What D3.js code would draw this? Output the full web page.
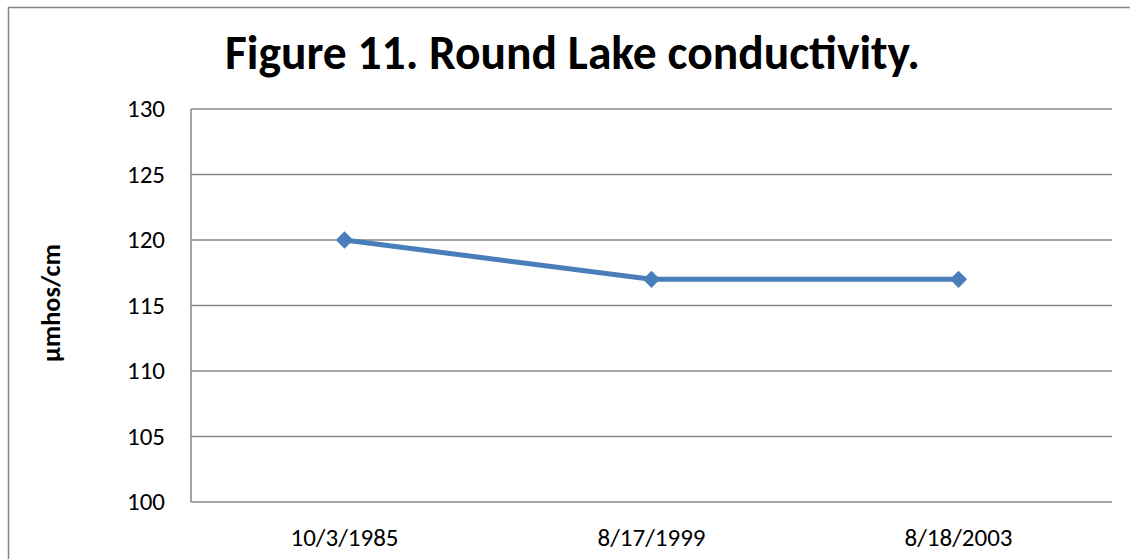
<!DOCTYPE html>
<html>
<head>
<meta charset="utf-8">
<script src="https://cdn.jsdelivr.net/npm/d3@7"></script>
<style>
  html, body { margin: 0; padding: 0; background: #fff; }
  svg { display: block; font-family: Carlito, Calibri, Lato, sans-serif; }
</style>
</head>
<body>
<div id="root"></div>
<script>
const categories = ['10/3/1985', '8/17/1999', '8/18/2003'];
const conductivity = [120, 117, 117];
const yTicks = [100, 105, 110, 115, 120, 125, 130];
const titleText = 'Figure 11. Round Lake conductivity.';
const yTitle = 'µmhos/cm';

const width = 1130;
const height = 559;
const plot = { left: 191, right: 1112, top: 109, bottom: 502 };
const gridColor = '#868686';
const lineColor = '#4a7ebb';

const svg = d3.select('#root')
  .append('svg')
  .attr('width', width)
  .attr('height', height);

// chart frame
svg.append('rect')
  .attr('x', 8.5)
  .attr('y', 7.5)
  .attr('width', width + 20)
  .attr('height', height + 20)
  .attr('fill', 'none')
  .attr('stroke', gridColor)
  .attr('stroke-width', 1.5);

const x = d3.scaleBand()
  .domain(categories)
  .range([plot.left, plot.right]);

const y = d3.scaleLinear()
  .domain([100, 130])
  .range([plot.bottom, plot.top]);

// gridlines
svg.append('g')
  .selectAll('line')
  .data(yTicks)
  .join('line')
  .attr('x1', plot.left)
  .attr('x2', plot.right)
  .attr('y1', (d) => y(d))
  .attr('y2', (d) => y(d))
  .attr('stroke', gridColor)
  .attr('stroke-width', 1.5);

// y axis line
svg.append('line')
  .attr('x1', plot.left)
  .attr('x2', plot.left)
  .attr('y1', plot.top)
  .attr('y2', plot.bottom)
  .attr('stroke', gridColor)
  .attr('stroke-width', 1.5);

// y tick labels
svg.append('g')
  .selectAll('text')
  .data(yTicks)
  .join('text')
  .attr('x', 165)
  .attr('y', (d) => y(d) + 8)
  .attr('text-anchor', 'end')
  .attr('font-size', '25px')
  .attr('fill', '#000')
  .text((d) => d);

// x tick labels
svg.append('g')
  .selectAll('text')
  .data(categories)
  .join('text')
  .attr('x', (d) => x(d) + x.bandwidth() / 2)
  .attr('y', 546)
  .attr('text-anchor', 'middle')
  .attr('font-size', '25px')
  .attr('fill', '#000')
  .text((d) => d);

// series line
const points = categories.map((c, i) => ({ cat: c, value: conductivity[i] }));
const line = d3.line()
  .x((d) => x(d.cat) + x.bandwidth() / 2)
  .y((d) => y(d.value));

svg.append('path')
  .datum(points)
  .attr('d', line)
  .attr('fill', 'none')
  .attr('stroke', lineColor)
  .attr('stroke-width', 5)
  .attr('stroke-linejoin', 'round');

svg.append('g')
  .selectAll('path')
  .data(points)
  .join('path')
  .attr('d', d3.symbol(d3.symbolSquare, 150))
  .attr('transform', (d) => `translate(${ x(d.cat) + x.bandwidth() / 2 },${ y(d.value) }) rotate(45)`)
  .attr('fill', lineColor);

// title
const title = svg.append('text')
  .attr('x', 225)
  .attr('y', 69)
  .attr('font-size', '36px')
  .attr('font-weight', 'bold')
  .attr('fill', '#000')
  .text(titleText);
const tw = title.node().getComputedTextLength();
title.attr('font-size', `${ 36 * 695 / tw }px`);

// y axis title
const yLabel = svg.append('text')
  .attr('transform', 'translate(60, 303) rotate(-90)')
  .attr('text-anchor', 'middle')
  .attr('font-size', '20px')
  .attr('font-weight', 'bold')
  .attr('fill', '#000')
  .text(yTitle);
const yw = yLabel.node().getComputedTextLength();
yLabel.attr('font-size', `${ 20 * 118 / yw }px`);
</script>
</body>
</html>
